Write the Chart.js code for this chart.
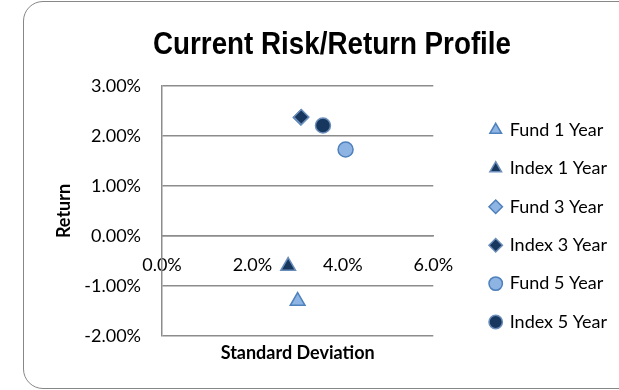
<!DOCTYPE html>
<html>
<head>
<meta charset="utf-8">
<script src="https://cdn.jsdelivr.net/npm/chart.js@4.4.1/dist/chart.umd.min.js"></script>
<style>
  html, body { margin: 0; padding: 0; background: #fff; overflow: hidden; }
  #wrap { position: relative; width: 619px; height: 390px; }
  #frame {
    position: absolute; left: 23px; top: 1px; width: 660px; height: 388px;
    border: 1.6px solid #878787; border-radius: 20px; box-sizing: border-box;
  }
  canvas { position: absolute; left: 0; top: 0; }
</style>
</head>
<body>
<div id="wrap">
  <div id="frame"></div>
  <canvas id="c" width="619" height="390"></canvas>
</div>
<script>
// Risk (standard deviation, %) and return (%) for each fund / index period
const chartTitle = 'Current Risk/Return Profile';
const seriesNames = ['Fund 1 Year', 'Index 1 Year', 'Fund 3 Year', 'Index 3 Year', 'Fund 5 Year', 'Index 5 Year'];
const stdDev  = [3.00, 2.79, 3.07, 3.08, 4.06, 3.56];
const returns = [-1.30, -0.60, 2.37, 2.38, 1.73, 2.21];
const shapes  = ['triangle', 'triangle', 'rectRot', 'rectRot', 'circle', 'circle'];
const yTicks  = [-2, -1, 0, 1, 2, 3];
const xTicks  = [0, 2, 4, 6];

const FUND_FILL = '#8EB4E3';
const FUND_EDGE = '#4F81BD';
const INDEX_FILL = '#17375E';
const INDEX_EDGE = '#6A8DBA';
const GRID = '#8C8C8C';
const bodyFont = 'Lato, "Open Sans", sans-serif';

const datasets = seriesNames.map((name, i) => {
  const isFund = name.startsWith('Fund');
  const radius = shapes[i] === 'triangle' ? 8.5 : 7.5;
  return {
    label: name,
    data: [{ x: stdDev[i], y: returns[i] }],
    pointStyle: shapes[i],
    backgroundColor: isFund ? FUND_FILL : INDEX_FILL,
    borderColor: isFund ? FUND_EDGE : INDEX_EDGE,
    borderWidth: 1.5,
    pointRadius: radius,
    pointHoverRadius: radius,
    order: -i            // later series sit on top
  };
});

// Condensed bold heading drawn above the plot
const headingPlugin = {
  id: 'heading',
  afterDraw(chart) {
    const ctx = chart.ctx;
    ctx.save();
    ctx.font = 'bold 32px "Liberation Sans", Arial, sans-serif';
    const w = ctx.measureText(chartTitle).width;
    ctx.translate(332, 54);
    ctx.scale(358 / w, 1);
    ctx.fillStyle = '#000';
    ctx.textAlign = 'center';
    ctx.textBaseline = 'alphabetic';
    ctx.fillText(chartTitle, 0, 0);
    ctx.restore();
  }
};

new Chart(document.getElementById('c'), {
  type: 'scatter',
  data: { datasets },
  plugins: [headingPlugin],
  options: {
    responsive: false,
    animation: false,
    layout: { padding: { left: 0, right: 2, top: 86, bottom: 38.6 } },
    plugins: {
      title: { display: false },
      legend: {
        position: 'right',
        align: 'end',
        maxWidth: 147,
        labels: {
          usePointStyle: true,
          boxWidth: 10,
          boxHeight: 9.5,
          padding: 20.4,
          color: '#000',
          font: { family: bodyFont, size: 18 },
          sort: (a, b) => a.datasetIndex - b.datasetIndex
        }
      },
      tooltip: { enabled: false }
    },
    scales: {
      x: {
        type: 'linear',
        min: 0, max: 6,
        position: { y: 0 },
        afterBuildTicks: axis => { axis.ticks = xTicks.map(v => ({ value: v })); },
        grid: { display: false, drawTicks: false },
        border: { color: GRID, width: 1.5 },
        ticks: {
          padding: 18,
          color: '#000',
          font: { family: bodyFont, size: 18 },
          callback: v => v.toFixed(1) + '%'
        }
      },
      y: {
        type: 'linear',
        min: -2, max: 3,
        afterBuildTicks: axis => { axis.ticks = yTicks.map(v => ({ value: v })); },
        afterFit: axis => { axis.width = 162; },
        grid: { color: GRID, lineWidth: 1.5, drawTicks: false },
        border: { color: GRID, width: 1.5 },
        ticks: {
          padding: 21,
          color: '#000',
          font: { family: bodyFont, size: 18 },
          callback: v => v.toFixed(2) + '%'
        },
        title: {
          display: true,
          text: 'Return',
          color: '#000',
          font: { family: bodyFont, size: 18, weight: 'bold' },
          padding: { top: 53.7, bottom: 0 }
        }
      },
      x2: {
        type: 'linear',
        position: 'bottom',
        min: 0, max: 6,
        afterFit: axis => { axis.height = 15.4; },
        ticks: { display: false },
        grid: { display: false, drawTicks: false },
        border: { display: false },
        title: {
          display: true,
          text: 'Standard Deviation',
          color: '#000',
          font: { family: bodyFont, size: 18, weight: 'bold' },
          padding: { top: 0, bottom: -12.4 }
        }
      },
      gap: {
        type: 'linear',
        position: 'right',
        min: 0, max: 1,
        afterFit: axis => { axis.width = 37; },
        ticks: { display: false },
        grid: { display: false, drawTicks: false },
        border: { display: false }
      }
    }
  }
});
</script>
</body>
</html>
